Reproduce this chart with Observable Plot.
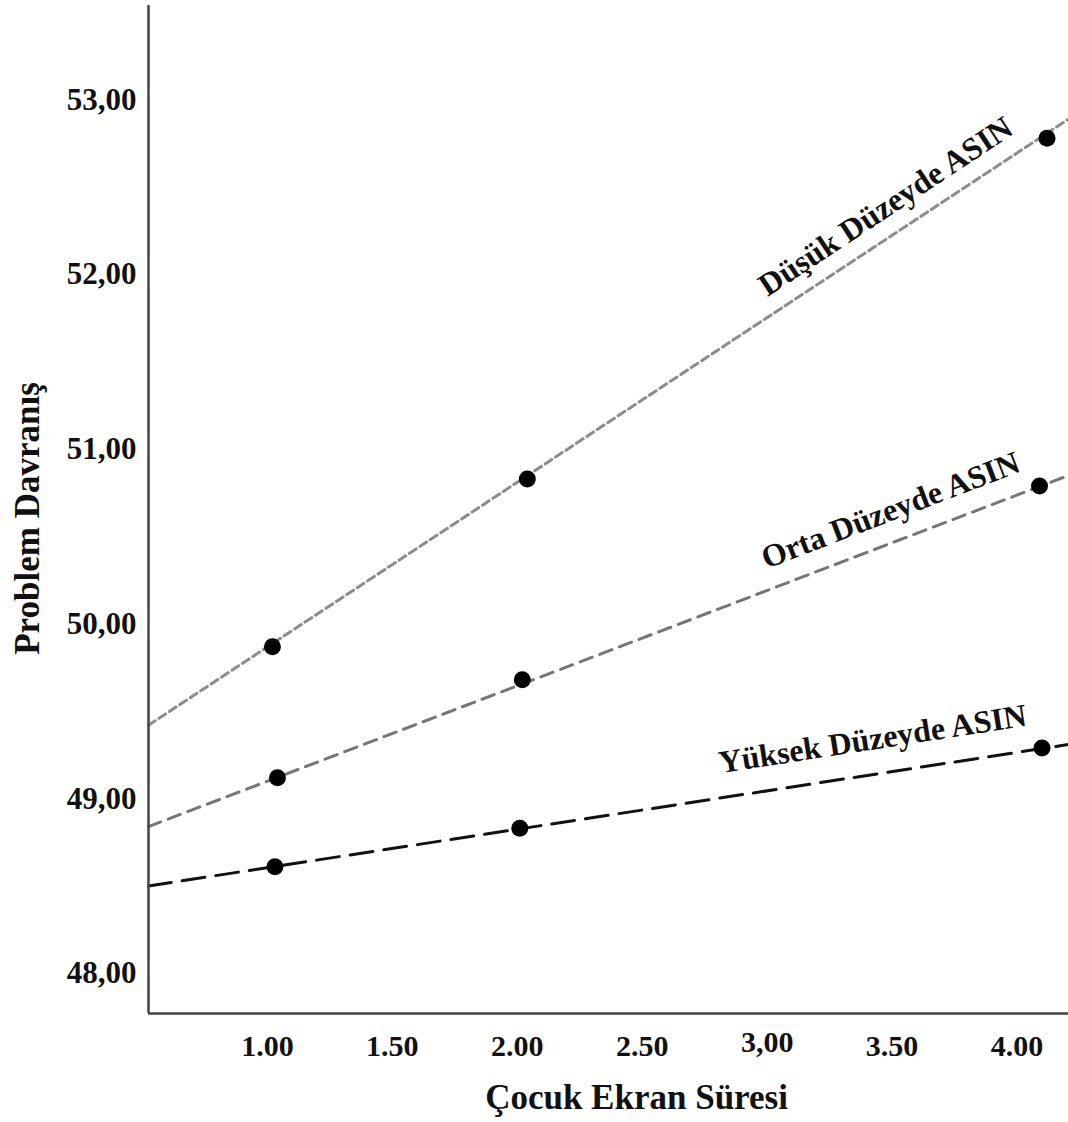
<!DOCTYPE html>
<html>
<head>
<meta charset="utf-8">
<script src="https://cdn.jsdelivr.net/npm/d3@7"></script>
<script src="https://cdn.jsdelivr.net/npm/@observablehq/plot@0.6"></script>
<style>
  html, body { margin: 0; padding: 0; background: #fff; }
  #chart svg { display: block; }
</style>
</head>
<body>
<div id="chart"></div>
<script>
// ---- Data ----
const groups = ["Düşük Düzeyde ASIN", "Orta Düzeyde ASIN", "Yüksek Düzeyde ASIN"];

// Plotted points (Çocuk Ekran Süresi, Problem Davranış)
const dusukX = [1.02, 2.04, 4.12];
const dusukY = [49.87, 50.83, 52.78];
const ortaX = [1.04, 2.02, 4.09];
const ortaY = [49.12, 49.68, 50.79];
const yuksekX = [1.03, 2.01, 4.10];
const yuksekY = [48.61, 48.83, 49.29];

// Fitted lines, values at the two ends of the x axis
const fitX = [0.524, 4.206];
const dusukFit = [49.42, 52.89];
const ortaFit = [48.84, 50.85];
const yuksekFit = [48.50, 49.31];

// Axis ticks
const xTicks = [1, 1.5, 2, 2.5, 3, 3.5, 4];
const xTickLabels = ["1.00", "1.50", "2.00", "2.50", "3,00", "3.50", "4.00"];
const yTicks = [48, 49, 50, 51, 52, 53];
const yTickLabels = ["48,00", "49,00", "50,00", "51,00", "52,00", "53,00"];

const xTitle = "Çocuk Ekran Süresi";
const yTitle = "Problem Davranış";

// ---- Build tables ----
const seriesX = [dusukX, ortaX, yuksekX];
const seriesY = [dusukY, ortaY, yuksekY];
const fits = [dusukFit, ortaFit, yuksekFit];

const points = groups.flatMap((g, i) => seriesX[i].map((x, j) => ({group: g, x, y: seriesY[i][j]})));
const lines = groups.map((g, i) => fitX.map((x, j) => ({group: g, x, y: fits[i][j]})));

// label anchors (data coordinates) and angles
const labelPos = [
  {text: groups[0], x: 3.474, y: 52.39, rotate: -33.5},
  {text: groups[1], x: 3.494, y: 50.65, rotate: -21},
  {text: groups[2], x: 3.422, y: 49.34, rotate: -8.8}
];

const lineStyles = [
  {stroke: "#8c8c8c", dash: "8,4.5"},
  {stroke: "#767676", dash: "13,8"},
  {stroke: "#111111", dash: "23,11"}
];

const serif = "'Liberation Serif', 'Times New Roman', Times, serif";
const xFmt = d => d === 3 ? "" : xTickLabels[xTicks.indexOf(d)];
const yFmt = d => yTickLabels[yTicks.indexOf(d)];

const chart = Plot.plot({
  width: 1068,
  height: 1122,
  marginLeft: 148,
  marginRight: 0,
  marginTop: 5,
  marginBottom: 109,
  style: {fontFamily: serif, background: "#fff"},
  x: {domain: [fitX[0], fitX[1]], ticks: xTicks},
  y: {domain: [47.77, 53.54], ticks: yTicks},
  marks: [
    Plot.axisX(xTicks, {tickSize: 0, tickPadding: 21, tickFormat: xFmt, fontSize: 30, fontWeight: "bold", fill: "#111", label: null}),
    // the "3,00" label sits slightly higher in the reference
    Plot.axisX([3], {tickSize: 0, tickPadding: 17, tickFormat: d => xTickLabels[xTicks.indexOf(d)], fontSize: 30, fontWeight: "bold", fill: "#111", label: null}),
    Plot.axisY(yTicks, {tickSize: 0, tickPadding: 12, tickFormat: yFmt, fontSize: 31, fontWeight: "bold", fill: "#111", label: null}),
    ...lines.map((l, i) => Plot.line(l, {x: "x", y: "y", stroke: lineStyles[i].stroke, strokeWidth: 3, strokeDasharray: lineStyles[i].dash})),
    Plot.dot(points, {x: "x", y: "y", r: 8.5, fill: "#000", stroke: "none"}),
    Plot.text(labelPos, {x: "x", y: "y", text: "text", rotate: "rotate", fontSize: 32, fontWeight: "bold", fill: "#111", textAnchor: "middle", lineAnchor: "middle"}),
    Plot.ruleX([fitX[0]], {stroke: "#444", strokeWidth: 2.5}),
    Plot.ruleY([47.77], {stroke: "#444", strokeWidth: 2.5}),
    Plot.text([xTitle], {frameAnchor: "bottom", dx: 28, dy: 84, fontSize: 35, fontWeight: "bold", fill: "#111", textAnchor: "middle", lineAnchor: "middle"}),
    Plot.text([yTitle], {frameAnchor: "left", dx: -121, dy: 9, rotate: -90, fontSize: 35, fontWeight: "bold", fill: "#111", textAnchor: "middle", lineAnchor: "middle", style: "word-spacing: 4px"})
  ]
});

document.getElementById("chart").appendChild(chart);
</script>
</body>
</html>
